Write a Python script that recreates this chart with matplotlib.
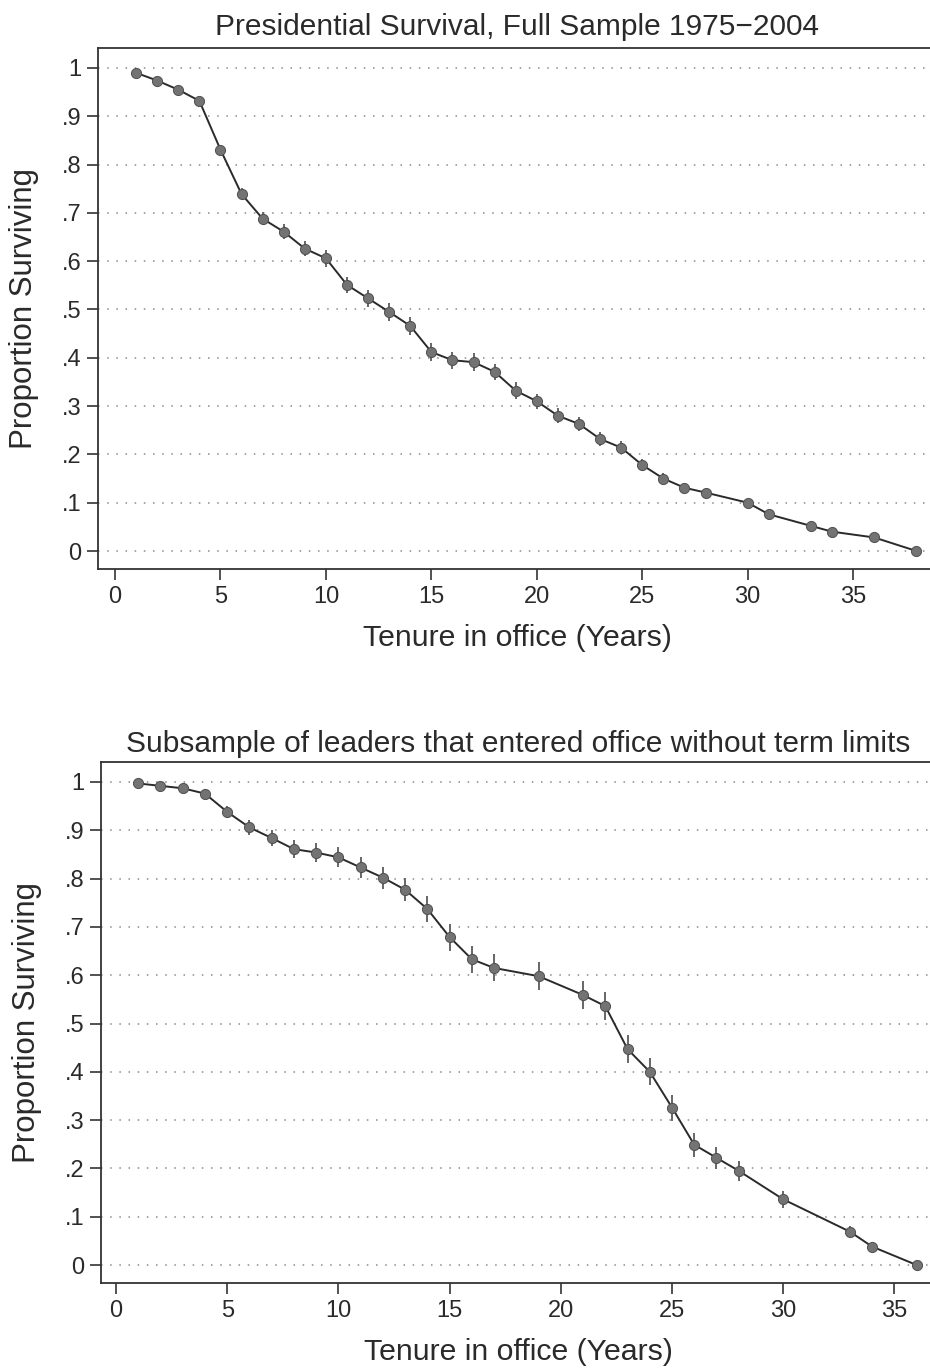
import matplotlib
matplotlib.use('Agg')
from matplotlib import pyplot as plt
import numpy as np

plt.rcParams['font.family'] = ['Liberation Sans', 'DejaVu Sans']

# full sample 1975-2004
full_years = [1, 2, 3, 4, 5, 6, 7, 8, 9, 10, 11, 12, 13, 14, 15, 16, 17, 18, 19,
              20, 21, 22, 23, 24, 25, 26, 27, 28, 30, 31, 33, 34, 36, 38]
full_surv = [0.990, 0.974, 0.955, 0.932, 0.831, 0.739, 0.688, 0.661, 0.626, 0.606,
             0.551, 0.523, 0.495, 0.466, 0.412, 0.395, 0.391, 0.371, 0.332, 0.310,
             0.280, 0.263, 0.232, 0.214, 0.178, 0.150, 0.131, 0.121, 0.100, 0.076,
             0.052, 0.040, 0.028, 0.0]
full_err = [0.004, 0.005, 0.006, 0.007, 0.010, 0.013, 0.014, 0.015, 0.016, 0.017,
            0.017, 0.018, 0.018, 0.019, 0.018, 0.018, 0.018, 0.017, 0.017, 0.016,
            0.016, 0.015, 0.015, 0.014, 0.013, 0.011, 0.010, 0.009, 0.008, 0.007,
            0.006, 0.005, 0.004, 0.0]

# leaders entering office without term limits
sub_years = [1, 2, 3, 4, 5, 6, 7, 8, 9, 10, 11, 12, 13, 14, 15, 16, 17, 19,
             21, 22, 23, 24, 25, 26, 27, 28, 30, 33, 34, 36]
sub_surv = [0.997, 0.992, 0.987, 0.976, 0.938, 0.906, 0.884, 0.861, 0.854, 0.844,
            0.823, 0.802, 0.777, 0.737, 0.679, 0.633, 0.615, 0.598, 0.559, 0.536,
            0.447, 0.400, 0.326, 0.249, 0.222, 0.195, 0.136, 0.069, 0.038, 0.0]
sub_err = [0.004, 0.005, 0.007, 0.009, 0.012, 0.015, 0.017, 0.019, 0.020, 0.021,
           0.022, 0.023, 0.024, 0.026, 0.028, 0.028, 0.028, 0.029, 0.029, 0.029,
           0.029, 0.028, 0.027, 0.025, 0.023, 0.021, 0.018, 0.012, 0.008, 0.0]

yticks = np.arange(0, 1.01, 0.1)
ytick_labels = ['0', '.1', '.2', '.3', '.4', '.5', '.6', '.7', '.8', '.9', '1']
xticks = np.arange(0, 36, 5)

W, H = 930, 1371
fig = plt.figure(figsize=(W / 100, H / 100), dpi=100)


def panel(left, right, top, bottom, x0, xscale, y1, y0):
    # axes placed in pixels; limits chosen so that x=0 / y=0 / y=1 land on given pixels
    ax = fig.add_axes([left / W, 1 - bottom / H, (right - left) / W, (bottom - top) / H])
    ax.set_xlim((left - x0) / xscale, (right - x0) / xscale)
    yscale = y0 - y1
    ax.set_ylim(-(bottom - y0) / yscale, 1 + (y1 - top) / yscale)
    return ax


def draw(ax, years, surv, err, title, title_pad):
    ax.errorbar(years, surv, yerr=err, fmt='none', ecolor='#666666', elinewidth=1.4,
                capsize=0, zorder=3)
    ax.plot(years, surv, color='#2a2a2a', lw=1.4, zorder=4)
    ax.plot(years, surv, 'o', color='#737373', ms=7.3, mec='#4f4f4f', mew=0.7, zorder=5)

    ax.set_yticks(yticks)
    ax.set_yticklabels(ytick_labels)
    ax.set_xticks(xticks)
    ax.yaxis.grid(True, linestyle=(0, (1, 5)), color='#8a8a8a', lw=1.1)
    ax.set_axisbelow(True)
    ax.tick_params(labelsize=17, length=8, width=1.2, color='#333333',
                   labelcolor='#2a2a2a', pad=4)
    for s in ax.spines.values():
        s.set_color('#333333')
        s.set_linewidth(1.3)
    ax.set_title(title, fontsize=21.5, color='#2a2a2a', pad=title_pad)
    ax.set_xlabel('Tenure in office (Years)', fontsize=21.8, color='#2a2a2a', labelpad=12)
    ax.set_ylabel('Proportion Surviving', fontsize=22.5, color='#2a2a2a', labelpad=16)


ax1 = panel(98, 936, 48, 569, 115, 21.09, 68, 551)
draw(ax1, full_years, full_surv, full_err,
     'Presidential Survival, Full Sample 1975\u22122004', 9)

ax2 = panel(101, 936, 762, 1283, 116, 22.24, 782, 1265)
draw(ax2, sub_years, sub_surv, sub_err,
     'Subsample of leaders that entered office without term limits', 7)

fig.savefig('out.png', dpi=100)
plt.close(fig)
